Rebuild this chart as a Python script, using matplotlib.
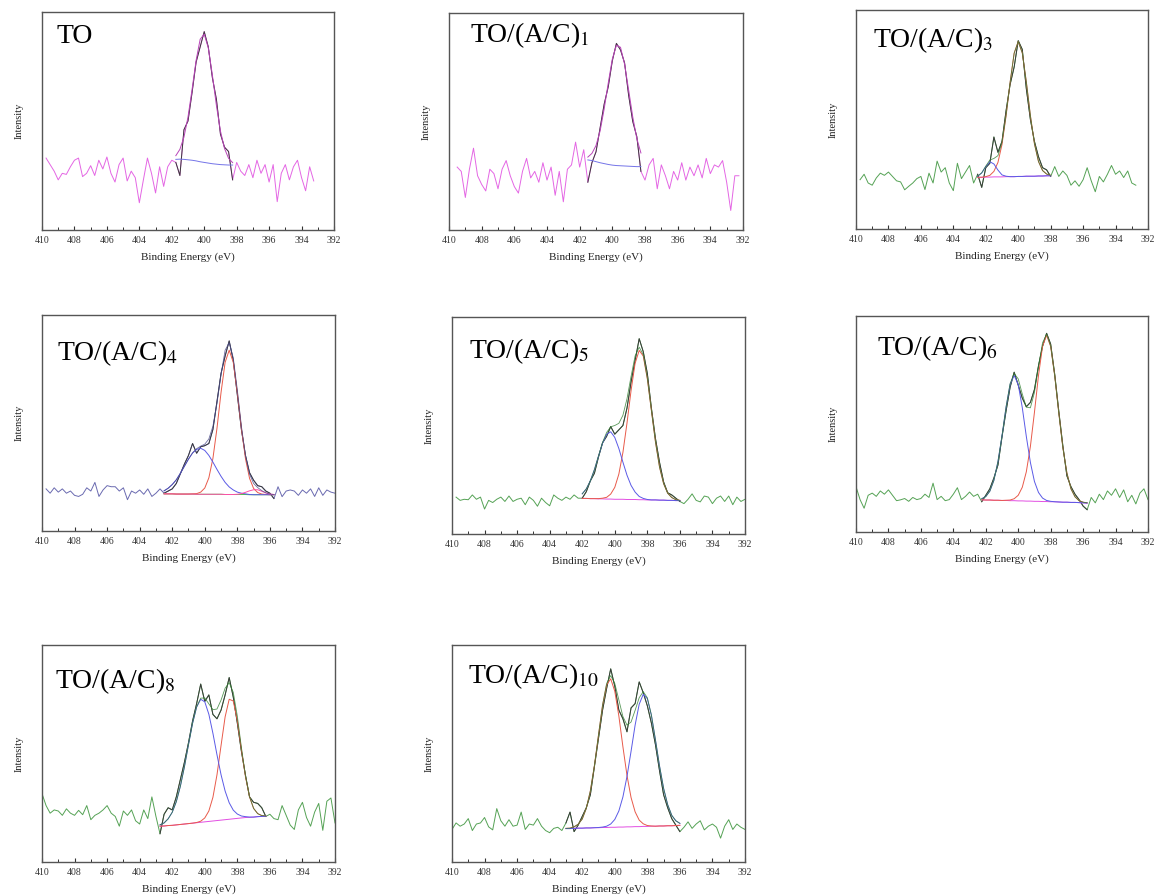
import numpy as np
import matplotlib
matplotlib.use("Agg")
import matplotlib.pyplot as plt

plt.rcParams['font.family'] = ['Liberation Serif', 'DejaVu Serif']
plt.rcParams['mathtext.fontset'] = 'stix'

# x axis ticks (binding energy, eV)
xticks = [410, 408, 406, 404, 402, 400, 398, 396, 394, 392]
xminor = [409, 407, 405, 403, 401, 399, 397, 395, 393]

# ---------------- TO ----------------
to_raw_range = (409.75, 393.25)
to_raw = [33, 30, 27, 23, 26, 25.5, 29, 32, 33, 24.5, 26, 29.5, 25, 32, 28, 33.5, 26, 22, 30, 33,
          22.5, 27, 24, 12.5, 23, 33, 26, 17, 29, 20, 29, 32,
          31, 25, 46, 50, 63, 77, 84, 91, 84, 70, 60, 44, 38, 36, 23,
          31, 27, 25, 30, 24, 32, 26, 30, 22, 30, 13, 26, 30, 23, 29, 32, 24, 18, 29, 22.5]
to_fit_range = (401.75, 398.25)
to_base = [32.4, 32.5, 32.4, 32.2, 32.0, 31.7, 31.3, 31.0, 30.7, 30.4, 30.2, 30.0, 29.9, 29.8, 29.8]
to_peak = [1.7, 4.5, 10.2, 19.6, 32.4, 46.1, 56.2, 58.8, 52.9, 40.8, 27.0, 15.4, 7.5, 3.1, 1.1]

# ---------------- TO/(A/C)1 ----------------
ac1_raw_range = (409.5, 392.25)
ac1_raw = [29, 27, 15, 28, 37.7, 25, 21, 18, 28, 26, 19, 28, 32, 25, 20, 17, 27, 33, 24, 27, 22, 31,
           23, 29, 16, 27, 13, 28, 30, 40.5, 29, 37,
           22, 31, 36, 47, 58, 66, 78, 86, 83, 77, 62, 50, 43, 27,
           23, 30, 33, 19, 30, 25, 19, 27, 23, 31, 23, 29, 25, 30, 24, 33, 26, 30, 29, 32, 22, 9, 25, 25]
ac1_fit_range = (401.5, 398.25)
ac1_base = [32.3, 32.0, 31.5, 31.0, 30.6, 30.2, 29.9, 29.7, 29.6, 29.5, 29.4, 29.3, 29.2, 29.2]
ac1_peak = [1.3, 3.3, 7.4, 14.6, 25.2, 37.5, 48.9, 55.4, 54.6, 46.9, 35.0, 22.8, 12.9, 6.3]

# ---------------- TO/(A/C)3 ----------------
ac3_raw_range = (409.75, 392.75)
ac3_raw = [22.5, 25, 21, 20, 23.3, 25.5, 24.5, 26, 24, 22, 21.5, 17.9, 19.5, 21, 23, 24, 18, 25.5,
           21, 31, 26, 28, 21, 17.5, 30, 23, 26, 29, 21,
           25, 19, 28, 30, 42, 35, 40, 54, 66, 74, 86, 82, 64, 50, 40, 33, 28, 27, 24,
           28.5, 24, 26.5, 24.5, 20, 22, 19.5, 22.5, 28, 22, 17, 24, 21.5, 25, 29, 25, 26.5, 23.5,
           26.5, 21, 20]
ac3_fit_range = (402.5, 398.0)
ac3_base = [23.6, 23.6, 23.7, 23.7, 23.8, 23.8, 23.8, 23.9, 23.9, 23.9, 24.0, 24.0, 24.1, 24.1,
            24.1, 24.2, 24.2, 24.3, 24.3]
ac3_main = [0, 0.05, 0.2, 0.8, 2.5, 6.6, 14.8, 27.7, 43.1, 56.4, 61.6, 56.4, 43.1, 27.7, 14.8,
            6.6, 2.5, 0.8, 0.2]
ac3_small = [0.5, 2.0, 4.8, 7.0, 5.9, 3.1, 0.9, 0.2, 0, 0, 0, 0, 0, 0, 0, 0, 0, 0, 0]

# ---------------- TO/(A/C)4 ----------------
ac4_raw_range = (409.75, 392.0)
ac4_raw = [19.5, 17.5, 20, 18, 19.5, 17.5, 18.5, 16.5, 16, 17, 20, 18.5, 22.5, 16, 19, 21, 20.5,
           20.5, 18.5, 20, 14.5, 18.5, 17.5, 19, 17, 19.5, 16, 17.5, 19.5,
           17.5, 18.5, 19.5, 22, 26.5, 31, 35, 40.5, 36, 39, 39.5, 40.5, 47, 60, 73, 81, 88, 79,
           63, 47, 35, 27, 23.5, 21, 20.5, 18.5, 17.5, 15,
           20.5, 15.9, 18.5, 19, 18.5, 16.5, 19, 17.5, 19.5, 16, 20, 16.5, 19, 18, 17.5]
ac4_fit_range = (402.5, 395.75)
ac4_base = [17.2, 17.2, 17.2, 17.1, 17.1, 17.1, 17.1, 17.1, 17.0, 17.0, 17.0, 17.0, 17.0, 17.0,
            17.0, 16.9, 16.9, 16.9, 16.9, 16.9, 16.9, 16.8, 16.8, 16.8, 16.8, 16.8, 16.8, 16.8]
ac4_red = [0, 0, 0, 0, 0, 0, 0, 0.1, 0.3, 1.0, 2.9, 7.6, 16.6, 30.6, 47.2, 61.2, 66.8, 61.2,
           47.2, 30.6, 16.6, 7.6, 2.9, 1.0, 0.3, 0.1, 0, 0]
ac4_blue = [1.4, 2.6, 4.3, 6.6, 9.6, 12.9, 16.2, 19.0, 20.8, 21.3, 20.3, 18.0, 14.9, 11.5, 8.3,
            5.6, 3.5, 2.1, 1.1, 0.6, 0.3, 0.1, 0, 0, 0, 0, 0, 0]
ac4_pink = [0, 0, 0, 0, 0, 0, 0, 0, 0, 0, 0, 0, 0, 0, 0, 0, 0, 0,
            0.1, 0.4, 1.0, 1.8, 2.3, 2.3, 1.6, 0.8, 0.3, 0.1]

# ---------------- TO/(A/C)5 ----------------
ac5_raw_range = (409.75, 392.0)
ac5_raw = [17, 15.5, 16, 15.8, 18, 16, 17, 11.5, 15.5, 14.5, 16, 17, 15, 17.5, 15, 16, 16.5, 13.5,
           17, 15.5, 12.8, 16.5, 14.5, 13, 18, 16.5, 15.5, 17, 16, 18, 16.5,
           16.5, 19.5, 24.5, 28, 35.5, 42, 45, 49.5, 46, 48, 50, 58, 70, 80, 90, 84, 74, 58, 44,
           33, 24, 19, 18, 16.5, 15,
           14, 16, 18.5, 15.5, 14.8, 17.5, 17, 14, 16.5, 17.5, 15, 17.5, 13.5, 17, 15, 16]
ac5_fit_range = (402.0, 396.0)
ac5_base = [16.4, 16.4, 16.3, 16.3, 16.2, 16.2, 16.1, 16.1, 16.0, 16.0, 16.0, 15.9, 15.9, 15.9,
            15.8, 15.8, 15.7, 15.7, 15.7, 15.6, 15.6, 15.5, 15.5, 15.4, 15.4]
ac5_blue = [2.1, 4.4, 8.2, 13.4, 19.7, 25.7, 29.9, 31.0, 28.5, 23.4, 17.1, 11.2, 6.5, 3.4, 1.5,
            0.6, 0.2, 0, 0, 0, 0, 0, 0, 0, 0]
ac5_red = [0, 0, 0, 0, 0.1, 0.3, 0.8, 2.3, 5.5, 11.6, 21.6, 35.2, 50.2, 62.8, 68.8, 66.2, 55.8,
           41.2, 26.7, 15.2, 7.6, 3.3, 1.3, 0.4, 0.1]

# ---------------- TO/(A/C)6 ----------------
ac6_raw_range = (410.0, 392.0)
ac6_raw = [21, 15, 11, 17, 18, 16.5, 19, 17.5, 19.5, 17, 14.5, 14.9, 15.5, 14.2, 16, 15, 15.5,
           17.5, 16, 22.6, 15, 16.5, 14.5, 15, 17.5, 20.5, 15, 16.5, 18.5, 16.5, 17.5,
           14, 17, 20, 25, 31, 44, 56, 67, 74, 68, 62, 58, 60, 66, 77, 86, 92, 87, 73, 56, 40, 26,
           21, 17.5, 15, 12, 10.3,
           16, 13.5, 17.5, 15, 19, 17, 20, 16, 19.5, 14, 17, 13, 18, 20, 15]
ac6_fit_range = (402.25, 395.75)
ac6_base = [14.9, 14.8, 14.8, 14.7, 14.7, 14.6, 14.6, 14.5, 14.5, 14.4, 14.4, 14.3, 14.3, 14.2,
            14.2, 14.1, 14.1, 14.0, 14.0, 13.9, 13.8, 13.8, 13.7, 13.7, 13.6, 13.5, 13.4]
ac6_blue = [0.5, 1.6, 4.1, 9.2, 17.9, 29.9, 43.2, 53.9, 58.0, 53.9, 43.2, 29.9, 17.9, 9.2, 4.1,
            1.6, 0.5, 0.2, 0, 0, 0, 0, 0, 0, 0, 0, 0]
ac6_red = [0, 0, 0, 0, 0, 0, 0.1, 0.3, 0.9, 2.6, 6.3, 13.6, 25.3, 41.2, 58.3, 71.9, 77.0, 71.9,
           58.3, 41.2, 25.3, 13.6, 6.3, 2.6, 0.9, 0.3, 0.1]

# ---------------- TO/(A/C)8 ----------------
ac8_raw_range = (410.0, 392.0)
ac8_raw = [31.5, 26, 22.5, 24, 23.5, 21.5, 24.5, 22.5, 21.5, 23.8, 21.8, 26, 19.5, 21.5, 22.5, 24,
           26, 22.5, 21, 16.5, 23.5, 21.5, 24, 19, 17.5, 24, 20, 30, 21,
           13, 22, 25, 24, 30, 38, 46, 55, 65, 73, 82, 74, 77, 68, 66, 70, 77, 85, 76, 64, 51, 40,
           30, 27.5, 27, 25, 21,
           22, 20, 19.5, 26, 21.5, 17, 15, 24, 27.5, 20.5, 16.5, 23, 27, 14.6, 28, 29.5, 18]
ac8_fit_range = (402.75, 396.25)
ac8_base = [16.5, 16.6, 16.8, 16.9, 17.1, 17.3, 17.5, 17.7, 17.9, 18.1, 18.3, 18.5, 18.7, 18.9,
            19.1, 19.3, 19.5, 19.7, 19.9, 20.1, 20.3, 20.5, 20.6, 20.7, 20.9, 21.0, 21.1]
ac8_blue = [0.6, 1.4, 3.1, 6.0, 10.7, 17.6, 26.4, 36.4, 46.0, 53.3, 56.7, 55.3, 49.4, 40.4, 30.3,
            20.9, 13.2, 7.6, 4.0, 2.0, 0.9, 0.4, 0.1, 0, 0, 0, 0]
ac8_red = [0, 0, 0, 0, 0, 0, 0, 0, 0, 0.1, 0.5, 1.8, 4.8, 10.9, 21.1, 34.4, 47.4, 55.3, 54.3,
           45.1, 31.6, 18.8, 9.4, 4.0, 1.4, 0.4, 0.1]

# ---------------- TO/(A/C)10 ----------------
ac10_raw_range = (410.0, 392.0)
ac10_raw = [15, 18, 16.5, 17.5, 20, 14.5, 17.5, 18, 20.5, 16.2, 14.8, 24.6, 19, 16.5, 19.5, 16.5,
            17, 23, 15, 17.5, 17, 20, 16.5, 14.5, 13.5, 15.5, 16, 14.5,
            18, 23, 14, 17, 21, 25, 31, 44, 57, 70, 80, 89, 81, 70, 66, 60, 71, 73, 83, 78, 72, 64,
            54, 42, 31, 25, 20, 17, 14,
            16, 18.5, 15.5, 17.5, 19, 14.8, 16.5, 17.5, 16, 11, 16.5, 19.5, 15, 17.5, 16, 15]
ac10_fit_range = (403.0, 396.0)
ac10_base = [15.4, 15.4, 15.5, 15.6, 15.6, 15.7, 15.7, 15.8, 15.8, 15.9, 15.9, 16.0, 16.0, 16.1,
             16.1, 16.2, 16.2, 16.3, 16.3, 16.4, 16.4, 16.5, 16.5, 16.6, 16.6, 16.7, 16.7, 16.8, 16.9]
ac10_red = [0.1, 0.2, 0.7, 1.8, 4.2, 9.0, 17.1, 28.7, 42.7, 56.3, 65.8, 68.4, 62.7, 51.2, 37.0,
            23.7, 13.5, 6.8, 3.0, 1.2, 0.4, 0.1, 0, 0, 0, 0, 0, 0, 0]
ac10_blue = [0, 0, 0, 0, 0, 0, 0, 0, 0.1, 0.2, 0.6, 1.5, 3.6, 7.4, 13.9, 23.2, 34.8, 46.8, 56.4,
             60.9, 58.9, 51.1, 39.7, 27.6, 17.3, 9.7, 4.8, 2.2, 0.9]

GREEN = '#55a255'
GREEN_D = '#2f7f2f'
MAG = '#e24ee2'
RED = '#e85a4a'
BLUE = '#5a5ae6'

panels = [
    dict(title='TO', raw=to_raw, rr=to_raw_range, fr=to_fit_range, base=to_base,
         comps=[(to_peak, '#b845b8')], raw_c='#e466e4', base_c='#7474e8', env_c=None,
         pos=[42, 334, 12, 230], tpos=(0.05, 0.858)),
    dict(title='TO/(A/C)$_1$', raw=ac1_raw, rr=ac1_raw_range, fr=ac1_fit_range, base=ac1_base,
         comps=[(ac1_peak, '#b845b8')], raw_c='#e466e4', base_c='#7474e8', env_c=None,
         pos=[449, 743, 13, 230], tpos=(0.071, 0.868)),
    dict(title='TO/(A/C)$_3$', raw=ac3_raw, rr=ac3_raw_range, fr=ac3_fit_range, base=ac3_base,
         comps=[(ac3_main, RED), (ac3_small, BLUE)], raw_c=GREEN, base_c=MAG, env_c=GREEN_D,
         pos=[856, 1148, 10, 229], tpos=(0.057, 0.832)),
    dict(title='TO/(A/C)$_4$', raw=ac4_raw, rr=ac4_raw_range, fr=ac4_fit_range, base=ac4_base,
         comps=[(ac4_red, RED), (ac4_blue, BLUE), (ac4_pink, '#ff4fa8')], raw_c='#6a6ab0',
         base_c='#4cc24c', env_c='#4a4a8a',
         pos=[42, 335, 315, 531], tpos=(0.05, 0.79)),
    dict(title='TO/(A/C)$_5$', raw=ac5_raw, rr=ac5_raw_range, fr=ac5_fit_range, base=ac5_base,
         comps=[(ac5_red, RED), (ac5_blue, BLUE)], raw_c=GREEN, base_c=MAG, env_c=GREEN_D,
         pos=[452, 745, 317, 534], tpos=(0.058, 0.81)),
    dict(title='TO/(A/C)$_6$', raw=ac6_raw, rr=ac6_raw_range, fr=ac6_fit_range, base=ac6_base,
         comps=[(ac6_red, RED), (ac6_blue, BLUE)], raw_c=GREEN, base_c=MAG, env_c=GREEN_D,
         pos=[856, 1148, 316, 532], tpos=(0.071, 0.82)),
    dict(title='TO/(A/C)$_8$', raw=ac8_raw, rr=ac8_raw_range, fr=ac8_fit_range, base=ac8_base,
         comps=[(ac8_red, RED), (ac8_blue, BLUE)], raw_c=GREEN, base_c=MAG, env_c=GREEN_D,
         pos=[42, 335, 645, 862], tpos=(0.044, 0.80)),
    dict(title='TO/(A/C)$_{10}$', raw=ac10_raw, rr=ac10_raw_range, fr=ac10_fit_range,
         base=ac10_base, comps=[(ac10_red, RED), (ac10_blue, BLUE)], raw_c=GREEN, base_c=MAG,
         env_c=GREEN_D, pos=[452, 745, 645, 862], tpos=(0.055, 0.825)),
]

W, H = 1155, 896
fig = plt.figure(figsize=(W / 100, H / 100), dpi=100)

for p in panels:
    l, r, t, b = p['pos']
    ax = fig.add_axes([l / W, 1 - b / H, (r - l) / W, (b - t) / H])

    raw = np.array(p['raw'])
    e_raw = np.linspace(p['rr'][0], p['rr'][1], len(raw))
    base = np.array(p['base'])
    e_fit = np.linspace(p['fr'][0], p['fr'][1], len(base))

    # full spectrum in colour, fitted window redrawn in dark grey
    ax.plot(e_raw, raw, color=p['raw_c'], lw=0.7)
    inside = (e_raw <= p['fr'][0] + 1e-6) & (e_raw >= p['fr'][1] - 1e-6)
    ax.plot(e_raw[inside], raw[inside], color='#3a3a3a', lw=0.7)

    ax.plot(e_fit, base, color=p['base_c'], lw=0.7)
    total = base.copy()
    for comp, c in p['comps']:
        comp = np.array(comp)
        ax.plot(e_fit, base + comp, color=c, lw=0.7)
        total = total + comp
    if p['env_c'] is not None:
        ax.plot(e_fit, total, color=p['env_c'], lw=0.6, alpha=0.8)

    ax.set_xlim(410, 392)
    ax.set_ylim(0, 100)
    ax.set_xticks(xticks)
    ax.set_xticks(xminor, minor=True)
    ax.set_xticklabels([str(v) for v in xticks])
    ax.set_yticks([])
    ax.tick_params(axis='x', which='both', direction='in', top=False, labelsize=7, pad=4.5,
                   colors='#333333')
    ax.tick_params(axis='x', which='major', length=3, width=0.8)
    ax.tick_params(axis='x', which='minor', length=2, width=0.7)
    for s in ax.spines.values():
        s.set_color('#555555')
        s.set_linewidth(1.0)

    ax.set_xlabel('Binding Energy (eV)', fontsize=8, labelpad=5.5, color='#222222')
    ax.set_ylabel('Intensity', fontsize=7.5, labelpad=13, color='#222222')
    ax.text(p['tpos'][0], p['tpos'][1], p['title'], transform=ax.transAxes, fontsize=20,
            va='baseline', ha='left', color='black')

fig.savefig('out.png', dpi=100)
